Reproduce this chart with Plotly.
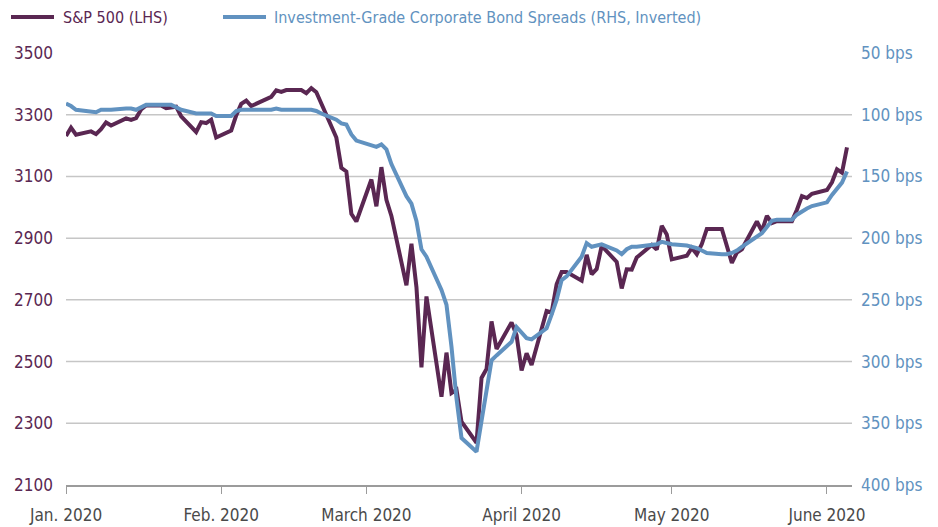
import pandas as pd
import plotly.graph_objects as go

# ---- data (weekdays, Jan 1 - Jun 5 2020; market holidays carry prior value) ----
start_date = "2020-01-01"
end_date = "2020-06-05"

sp500 = [
    # Jan
    3231, 3258, 3235, 3246, 3237, 3253, 3275, 3265, 3288, 3283, 3289, 3317, 3330, 3330,
    3321, 3322, 3326, 3295, 3244, 3276, 3273, 3284, 3226,
    # Feb
    3249, 3298, 3335, 3346, 3328, 3352, 3358, 3379, 3374, 3380, 3380, 3370, 3386, 3373,
    3338, 3226, 3128, 3116, 2979, 2954,
    # Mar
    3090, 3003, 3130, 3024, 2972, 2747, 2882, 2741, 2481, 2711, 2386, 2529, 2398, 2409,
    2305, 2237, 2447, 2476, 2630, 2541, 2627, 2585,
    # Apr
    2471, 2527, 2489, 2664, 2659, 2750, 2790, 2790, 2762, 2846, 2783, 2800, 2875, 2823,
    2737, 2799, 2798, 2837, 2878, 2863, 2940, 2912,
    # May
    2831, 2843, 2868, 2848, 2881, 2930, 2930, 2870, 2820, 2853, 2864, 2954, 2923, 2972,
    2949, 2955, 2955, 2992, 3036, 3030, 3044,
    # Jun
    3056, 3081, 3123, 3112, 3194,
]

ig_spreads = [
    # Jan
    91, 93, 96, 97, 98, 96, 96, 96, 95, 95, 96, 94, 92, 92, 92, 92, 94, 96, 99, 99, 99, 99, 101,
    # Feb
    101, 97, 96, 96, 96, 96, 96, 95, 96, 96, 96, 96, 96, 97, 99, 104, 107, 108, 116, 121,
    # Mar
    125, 126, 124, 128, 140, 166, 172, 186, 209, 215, 242, 254, 288, 330, 362, 373, 348, 323,
    299, 295, 284, 272,
    # Apr
    277, 281, 282, 273, 262, 250, 234, 231, 215, 204, 207, 206, 205, 210, 213, 209, 207, 207,
    206, 205, 203, 204,
    # May
    205, 206, 207, 208, 210, 212, 213, 213, 212, 210, 207, 199, 196, 191, 186, 185, 185, 181,
    178, 176, 174,
    # Jun
    171, 165, 160, 155, 146,
]

month_ticks = ["2020-01-01", "2020-02-01", "2020-03-01", "2020-04-01", "2020-05-01", "2020-06-01"]
month_labels = ["Jan. 2020", "Feb. 2020", "March 2020", "April 2020", "May 2020", "June 2020"]

left_ticks = [2100, 2300, 2500, 2700, 2900, 3100, 3300, 3500]
grid_levels = [2300, 2500, 2700, 2900, 3100, 3300]
right_ticks = [50, 100, 150, 200, 250, 300, 350, 400]
right_labels = [f"{v} bps" for v in right_ticks]

series_names = ["S&P 500 (LHS)", "Investment-Grade Corporate Bond Spreads (RHS, Inverted)"]

# ---- style ----
PURPLE = "#5a2752"
BLUE = "#6192c0"
GRID = "#c6c6c6"
AXIS = "#9b9b9b"
FONT = "Liberation Sans Narrow, DejaVu Sans Condensed, Arial Narrow, sans-serif"

# page has an 8px body margin: figure is 930x519 so the page looks 938x527
FIG_W, FIG_H = 930, 519
OFF = 8

dates = pd.bdate_range(start_date, end_date)

fig = go.Figure()
fig.add_trace(go.Scatter(x=dates, y=ig_spreads, yaxis="y2", mode="lines",
                         line=dict(color=BLUE, width=4), name=series_names[1],
                         showlegend=False))
fig.add_trace(go.Scatter(x=dates, y=sp500, yaxis="y", mode="lines",
                         line=dict(color=PURPLE, width=4), name=series_names[0],
                         showlegend=False))

shapes = []
for g in grid_levels:
    shapes.append(dict(type="line", xref="paper", yref="y", x0=0, x1=1, y0=g, y1=g,
                       line=dict(color=GRID, width=1.5), layer="below"))

# plot area in page pixels: x 66..852, y 53..485
PL, PR, PT, PB = 66, 852, 53, 485
W, H = float(PR - PL), float(PB - PT)
def px(p):
    return (p - PL) / W
def py(p):
    return (PB - p) / H

leg_y = py(17)
shapes.append(dict(type="line", xref="paper", yref="paper", x0=px(11), x1=px(54), y0=leg_y, y1=leg_y,
                   line=dict(color=PURPLE, width=4)))
shapes.append(dict(type="line", xref="paper", yref="paper", x0=px(223), x1=px(266), y0=leg_y, y1=leg_y,
                   line=dict(color=BLUE, width=4)))
annotations = [
    dict(xref="paper", yref="paper", x=px(61), y=leg_y, text=series_names[0], showarrow=False,
         xanchor="left", yanchor="middle", font=dict(family=FONT, size=16, color=PURPLE)),
    dict(xref="paper", yref="paper", x=px(272), y=leg_y, text=series_names[1], showarrow=False,
         xanchor="left", yanchor="middle", font=dict(family=FONT, size=16, color=BLUE)),
]

fig.update_layout(
    width=FIG_W, height=FIG_H, autosize=False,
    margin=dict(l=PL - OFF, r=FIG_W - (PR - OFF), t=PT - OFF, b=FIG_H - (PB - OFF),
                autoexpand=False),
    paper_bgcolor="white", plot_bgcolor="white",
    font=dict(family=FONT, size=17),
    shapes=shapes, annotations=annotations,
    xaxis=dict(type="date", range=["2020-01-01", "2020-06-06"], tickvals=month_ticks,
               ticktext=month_labels, showgrid=False, zeroline=False, automargin=False,
               showline=True, linecolor=AXIS, linewidth=1.5,
               ticks="outside", ticklen=7, tickcolor=AXIS, tickwidth=1.2,
               tickfont=dict(family=FONT, size=17, color="#4a4a4a"), ticklabelstandoff=7),
    yaxis=dict(range=[2100, 3500], tickvals=left_ticks, showgrid=False, zeroline=False,
               showline=False, ticks="", automargin=False,
               tickfont=dict(family=FONT, size=17, color=PURPLE), ticklabelstandoff=12),
    yaxis2=dict(range=[400, 50], overlaying="y", side="right", tickvals=right_ticks,
                ticktext=right_labels, showgrid=False, zeroline=False, showline=False,
                ticks="", automargin=False,
                tickfont=dict(family=FONT, size=17, color=BLUE), ticklabelstandoff=8),
    showlegend=False,
)

fig.write_html("out.html")
